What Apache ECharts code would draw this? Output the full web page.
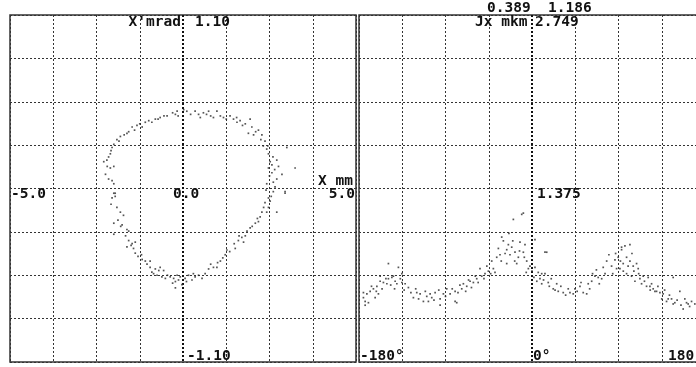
<!DOCTYPE html>
<html>
<head>
<meta charset="utf-8">
<script src="https://cdn.jsdelivr.net/npm/echarts@6/dist/echarts.min.js"></script>
<style>
  html, body { margin: 0; padding: 0; background: #fff; }
  #chart { width: 696px; height: 367px; }
</style>
</head>
<body>
<div id="chart"></div>
<script>
// phase plane: X (mm), X' (mrad)
const ellipseTop = [
  [-0.17,0.49],[-0.14,0.46],[-0.22,0.47],[-0.46,0.46],[-0.66,0.45],[-0.80,0.44],[-0.99,0.43],[-1.09,0.42],
  [-1.18,0.39],[-1.33,0.40],[-1.47,0.39],[-1.57,0.36],[-1.62,0.35],[-1.81,0.33],[-1.91,0.31],[-2.00,0.28],
  [-2.05,0.26],[-2.10,0.22],[-2.15,0.20],[-2.29,0.17],[-2.19,0.14],[-2.10,0.13],[-2.00,0.14],[-2.24,0.09],
  [-2.15,0.06],[-2.05,0.05],[-2.00,0.03],[-1.96,-0.03],[0.11,0.49],[0.35,0.49],[0.45,0.47],[0.59,0.48],
  [0.74,0.49],[0.88,0.45],[0.98,0.49],[1.08,0.46],[1.17,0.45],[1.36,0.46],[1.46,0.44],[1.56,0.42],
  [1.65,0.43],[1.80,0.41],[1.94,0.44],[1.99,0.39],[1.89,0.35],[2.04,0.34],[2.18,0.37],[2.28,0.34],
  [2.37,0.30],[2.32,0.27],[2.42,0.25],[2.47,0.22],[2.52,0.17],[2.57,0.15],[2.71,0.18],[3.00,0.26],
  [3.24,0.13],[2.76,0.14],[2.47,0.13],[2.57,0.10],[2.86,0.09],[2.71,0.06],[2.61,0.04],[2.42,0.03],
  [2.66,0.01],[2.95,-0.02],
  [-0.30,0.48],[-0.55,0.46],[-0.72,0.44],[-0.90,0.42],[-1.25,0.41],[-1.40,0.37],[-1.70,0.34],[-1.85,0.30],
  [-2.08,0.24],[-2.20,0.18],[0.02,0.50],[0.22,0.47],[0.50,0.45],[0.68,0.47],[0.80,0.46],[1.25,0.44],
  [1.55,0.45],[1.72,0.40],[2.10,0.36],[2.25,0.31],[2.45,0.27],[2.60,0.20],[2.50,0.08],[2.65,0.12]
];
const ellipseBottom = [
  [-2.00,-0.03],[-1.96,-0.05],[-2.05,-0.06],[-1.91,-0.12],[-1.81,-0.15],[-1.72,-0.17],[-2.00,-0.22],[-1.76,-0.23],
  [-1.62,-0.26],[-1.57,-0.27],[-2.00,-0.29],[-1.57,-0.33],[-1.47,-0.35],[-1.38,-0.34],[-1.62,-0.37],[-1.43,-0.38],
  [-1.38,-0.41],[-1.18,-0.45],[-1.09,-0.46],[-0.95,-0.46],[-1.04,-0.48],[-0.95,-0.50],[-0.80,-0.51],[-0.66,-0.50],
  [-0.56,-0.52],[-0.85,-0.54],[-0.75,-0.55],[-0.61,-0.56],[-0.51,-0.57],[-0.37,-0.56],[-0.27,-0.57],[-0.17,-0.55],
  [-0.22,-0.59],[-0.13,-0.58],[-0.03,-0.61],[-0.22,-0.63],[0.06,-0.57],[0.16,-0.55],[0.26,-0.58],[0.35,-0.56],
  [0.55,-0.57],[0.64,-0.54],[0.74,-0.51],[0.88,-0.50],[0.98,-0.50],[1.08,-0.46],[1.22,-0.42],[1.27,-0.39],
  [1.51,-0.38],[1.60,-0.33],[1.70,-0.31],[1.80,-0.30],[1.75,-0.34],[1.94,-0.25],[2.09,-0.22],[2.18,-0.21],
  [2.23,-0.18],[2.28,-0.15],[2.42,-0.15],[2.47,-0.12],[2.37,-0.09],[2.52,-0.08],[2.47,-0.06],[2.71,-0.15],
  [2.61,-0.02],[2.95,-0.03],
  [-2.08,-0.10],[-1.88,-0.20],[-1.80,-0.24],[-1.66,-0.30],[-1.50,-0.36],[-1.30,-0.43],[-1.20,-0.42],[-0.90,-0.53],
  [-0.70,-0.52],[-0.45,-0.55],[-0.30,-0.60],[-0.08,-0.56],[0.10,-0.59],[0.30,-0.54],[0.45,-0.55],[0.80,-0.48],
  [1.00,-0.47],[1.15,-0.44],[1.35,-0.40],[1.48,-0.35],[1.62,-0.30],[1.85,-0.27],[2.00,-0.24],[2.15,-0.19],
  [2.33,-0.12],[2.55,-0.05],[2.40,-0.01]
];

// action Jx (mkm) vs phase (deg)
const jxLeftHalf = [
  [-19.4,1.13],[-10.7,1.17],[-31.5,0.99],[-29.8,0.96],[-24.6,0.93],[-21.1,0.91],[-26.3,0.89],[-17.7,0.87],
  [-14.2,0.83],[-15.9,0.78],[-22.9,0.85],[-33.3,0.85],[-36.7,0.83],[-41.9,0.80],[-26.3,0.78],[-40.2,0.74],
  [-38.5,0.71],[-45.4,0.72],[-48.9,0.70],[-54.1,0.74],[-52.3,0.68],[-57.5,0.66],[-61.0,0.63],[-64.4,0.64],
  [-67.9,0.60],[-71.4,0.62],[-73.1,0.58],[-80.0,0.56],[-85.2,0.54],[-80.0,0.48],[-88.7,0.58],[-92.2,0.54],
  [-95.6,0.50],[-100.8,0.55],[-104.3,0.51],[-109.5,0.52],[-113.0,0.48],[-116.4,0.54],[-119.9,0.55],[-123.4,0.51],
  [-128.6,0.59],[-132.0,0.62],[-135.4,0.63],[-140.6,0.62],[-142.4,0.64],[-145.8,0.67],[-149.4,0.66],[-151.0,0.62],
  [-154.6,0.63],[-158.0,0.64],[-161.4,0.60],[-165.0,0.58],[-168.4,0.56],[-171.8,0.54],[-175.4,0.51],[-173.6,0.48],
  [-163.2,0.51],[-159.8,0.54],[-149.4,0.78],[-139.0,0.75],[-135.4,0.70],[-144.2,0.68],[-158.0,0.68],[-175.4,0.55],
  [-173.6,0.45],[-170.2,0.47],[-95.6,0.45],[-107.8,0.48],[-78.3,0.47],
  [-167,0.60],[-162,0.56],[-156,0.58],[-152,0.66],[-147,0.61],[-143,0.58],[-137,0.66],[-133,0.57],
  [-126,0.55],[-121,0.58],[-118,0.50],[-111,0.56],[-106,0.54],[-102,0.49],[-97,0.57],[-90,0.52],
  [-83,0.58],[-77,0.55],[-75,0.61],[-69,0.56],[-66,0.65],[-63,0.59],[-59,0.68],[-56,0.63],
  [-50,0.66],[-47,0.76],[-43,0.70],[-35,0.90],[-32,0.80],[-28,0.86],[-24,1.02],[-20,0.96],
  [-18,0.80],[-13,0.88],[-8,0.83],[-6,0.71]
];
const jxRightHalf = [
  [-9.0,1.18],[-12.5,0.95],[-7.3,0.93],[-9.0,0.87],[3.1,0.97],[15.3,0.87],[-5.5,0.80],[-2.1,0.76],
  [-3.8,0.74],[3.1,0.75],[6.5,0.71],[10.1,0.70],[13.5,0.70],[8.3,0.66],[10.1,0.62],[16.9,0.63],
  [22.1,0.58],[25.7,0.62],[27.3,0.56],[32.5,0.55],[37.7,0.58],[39.5,0.55],[42.9,0.54],[44.7,0.58],
  [49.9,0.60],[53.3,0.55],[56.9,0.54],[58.5,0.62],[62.1,0.64],[65.5,0.68],[68.9,0.67],[72.5,0.66],
  [74.1,0.75],[77.7,0.80],[82.8,0.76],[86.3,0.81],[89.7,0.83],[93.2,0.89],[96.7,0.92],[101.9,0.93],
  [98.4,0.83],[101.9,0.80],[94.9,0.78],[91.5,0.74],[88.0,0.74],[105.3,0.76],[108.8,0.78],[110.5,0.74],
  [98.4,0.70],[103.6,0.68],[107.1,0.64],[112.3,0.66],[115.7,0.68],[120.9,0.67],[119.2,0.60],[124.4,0.62],
  [126.1,0.58],[129.6,0.56],[133.1,0.55],[136.5,0.54],[140.0,0.48],[145.2,0.50],[148.6,0.47],[153.8,0.56],
  [160.8,0.47],[166.0,0.48],[169.4,0.46],[146.9,0.67],[141.7,0.50],[157.3,0.42],[162.5,0.46],[146.9,0.46],
  [122.7,0.60],[127.9,0.56],[13.5,0.87],[93.2,0.91],
  [0,0.72],[2,0.67],[5,0.64],[12,0.65],[18,0.60],[20,0.66],[24,0.57],[30,0.60],
  [35,0.53],[47,0.56],[51,0.63],[60,0.58],[63,0.70],[67,0.73],[70,0.62],[76,0.70],
  [80,0.85],[84,0.70],[87,0.86],[92,0.80],[95,0.72],[100,0.76],[104,0.86],[106,0.72],
  [111,0.70],[114,0.62],[117,0.64],[123,0.57],[131,0.60],[135,0.50],[138,0.57],[143,0.53],
  [151,0.49],[155,0.45],[159,0.50],[164,0.44]
];

// axis ranges
const xRange = [-5, 5];        // mm
const xpRange = [-1.1, 1.1];   // mrad
const phaseRange = [-180, 180];
const jxRange = [0, 2.75];

// texts
const xName = "X mm", xpName = "X'mrad", jxName = "Jx mkm";
const xTicks = ["-5.0", "0.0", "5.0"];
const xpTicks = ["1.10", "-1.10"];
const phaseTicks = ["-180°", "0°", "180°"];
const jxTicks = ["2.749", "1.375"];
const headerText = "0.389  1.186";

const FONT = 'bold 14.5px "DejaVu Sans Mono", monospace';
const INK = "#111";
const DOT = "#333";
const NONE = "rgba(0,0,0,0)";
// normal vertical lines skip the middle one; an overlay axis draws only the middle one, bold
const vLineColors = [DOT, DOT, DOT, DOT, NONE, DOT, DOT, DOT, DOT];
const zeroLineColors = [NONE, NONE, NONE, NONE, "#111", NONE, NONE, NONE, NONE];

const chart = echarts.init(document.getElementById("chart"));

function valueAxis(gridIndex, range, lineColors, lineWidth) {
  return {
    type: "value",
    gridIndex: gridIndex,
    min: range[0],
    max: range[1],
    interval: (range[1] - range[0]) / 8,
    axisLine: { show: false },
    axisTick: { show: false },
    axisLabel: { show: false },
    splitLine: { show: true, lineStyle: { color: lineColors, width: lineWidth, type: [2, 2] } }
  };
}

const option = {
  backgroundColor: "#fff",
  animation: false,
  grid: [
    { left: 10, top: 15, width: 346, height: 347, outerBoundsMode: "none", show: true,
      borderColor: "#333", borderWidth: 1.5, backgroundColor: "transparent" },
    { left: 359, top: 15, width: 346, height: 347, outerBoundsMode: "none", show: true,
      borderColor: "#333", borderWidth: 1.5, backgroundColor: "transparent" }
  ],
  xAxis: [
    valueAxis(0, xRange, vLineColors, 1),
    valueAxis(1, phaseRange, vLineColors, 1),
    valueAxis(0, xRange, zeroLineColors, 2),
    valueAxis(1, phaseRange, zeroLineColors, 2)
  ],
  yAxis: [valueAxis(0, xpRange, DOT, 1), valueAxis(1, jxRange, DOT, 1)],
  series: [
    {
      type: "scatter", xAxisIndex: 0, yAxisIndex: 0, silent: true,
      symbol: "rect", symbolSize: 1.7, itemStyle: { color: "#2a2a2a" },
      data: ellipseTop.concat(ellipseBottom)
    },
    {
      type: "scatter", xAxisIndex: 1, yAxisIndex: 1, silent: true,
      symbol: "rect", symbolSize: 1.7, itemStyle: { color: "#2a2a2a" },
      data: jxLeftHalf.concat(jxRightHalf)
    }
  ]
};
chart.setOption(option);

// labels anchored to the axes
function px(grid, pt) { return chart.convertToPixel({ gridIndex: grid }, pt); }
function label(text, p, dx, dy, align) {
  return {
    type: "text", x: p[0] + dx, y: p[1] + dy, silent: true,
    style: { text: text, font: FONT, fill: INK, align: align || "left", verticalAlign: "middle" }
  };
}

const l0 = px(0, [0, 0]), lTop = px(0, [0, xpRange[1]]), lBot = px(0, [0, xpRange[0]]);
const lLeft = px(0, [xRange[0], 0]), lRight = px(0, [xRange[1], 0]);
const r0 = px(1, [0, (jxRange[0] + jxRange[1]) / 2]), rTop = px(1, [0, jxRange[1]]), rBot = px(1, [0, jxRange[0]]);
const rLeft = px(1, [phaseRange[0], jxRange[0]]), rRight = px(1, [phaseRange[1], jxRange[0]]);

chart.setOption({
  graphic: [
    label(xpName, lTop, -2, 7, "right"),
    label(xpTicks[0], lTop, 12, 7),
    label(xpTicks[1], lBot, 4, -6),
    label(xTicks[0], lLeft, 1, 6),
    label(xTicks[1], l0, -10, 6),
    label(xTicks[2], lRight, -1, 6, "right"),
    label(xName, lRight, -3, -7, "right"),
    label(headerText, rTop, -45, -7),
    label(jxName, rTop, -57, 7),
    label(jxTicks[0], rTop, 3, 7),
    label(jxTicks[1], r0, 5, 6),
    label(phaseTicks[0], rLeft, 1, -6),
    label(phaseTicks[1], rBot, 1, -6),
    label(phaseTicks[2], rRight, -37, -6)
  ]
});
</script>
</body>
</html>
